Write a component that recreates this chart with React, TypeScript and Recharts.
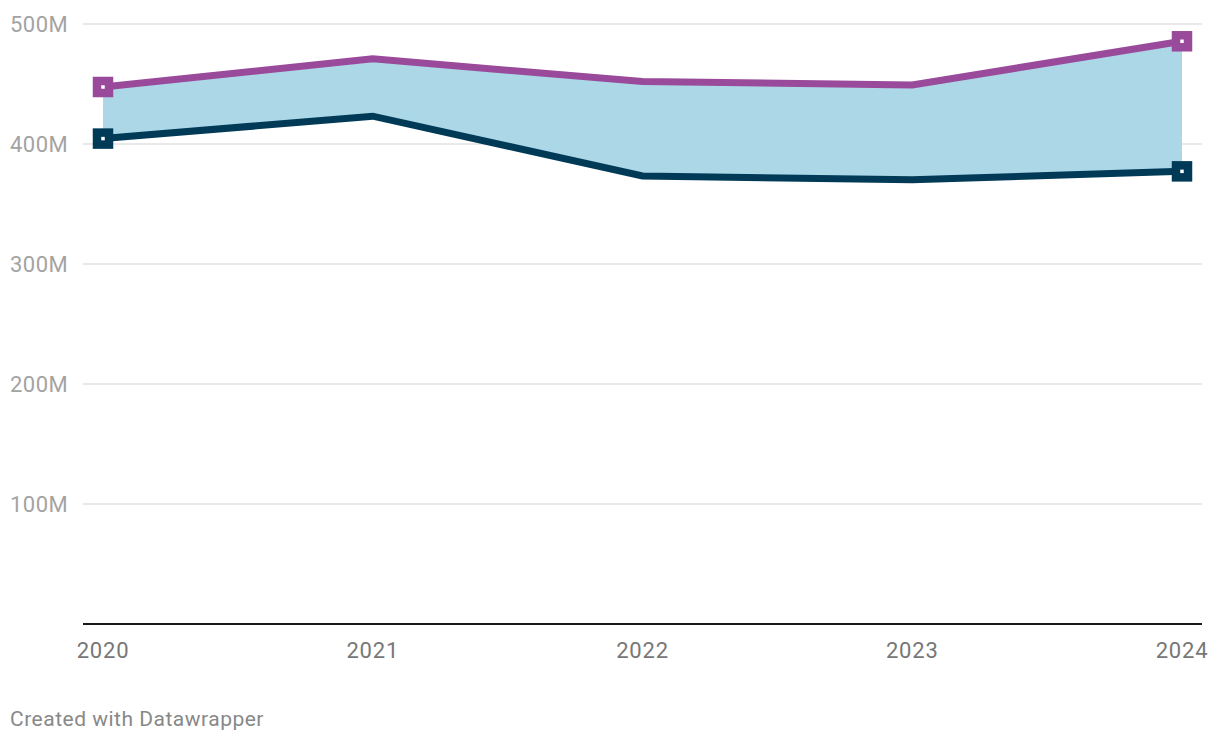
import React from "react";
import { ComposedChart, Area, Line, XAxis, YAxis, CartesianGrid, ReferenceLine } from "recharts";

const years = [2020, 2021, 2022, 2023, 2024];
const upperSeries = [447.5, 471, 452, 449.2, 485.6];
const lowerSeries = [404.5, 423.2, 373.3, 370.3, 377.2];
const yTicks = [100, 200, 300, 400, 500];

const PURPLE = "#9a4a9b";
const DARK = "#013a57";
const FILL = "#acd7e7";

const data = years.map((y, i) => ({
  year: y,
  upper: upperSeries[i],
  lower: lowerSeries[i],
  range: [lowerSeries[i], upperSeries[i]],
}));

const makeDot = (color: string) => (props: any) => {
  const { cx, cy, index } = props;
  if (index !== 0 && index !== data.length - 1) return <g key={`d${index}`} />;
  return (
    <rect
      key={`d${index}`}
      x={cx - 6}
      y={cy - 6}
      width={12}
      height={12}
      fill="#fff"
      stroke={color}
      strokeWidth={8.5}
    />
  );
};

const YTick = (props: any) => {
  const { y, payload } = props;
  return (
    <text x={10} y={y} dy="0.36em" textAnchor="start" fontSize={22} letterSpacing={0.5} fill="#a3a3a3" fontFamily="Roboto">
      {`${payload.value}M`}
    </text>
  );
};

const XTick = (props: any) => {
  const { x, payload } = props;
  return (
    <text x={x} y={658} textAnchor="middle" fontSize={22} letterSpacing={0.8} fill="#777" fontFamily="Roboto">
      {payload.value}
    </text>
  );
};

export default function App() {
  return (
    <div style={{ position: "absolute", left: 0, top: 0, width: 1220, height: 740, background: "#fff", fontFamily: "Roboto" }}>
      <ComposedChart width={1220} height={740} data={data} margin={{ top: 24, right: 18, bottom: 86, left: 0 }}>
        <CartesianGrid horizontal vertical={false} stroke="#e2e2e2" strokeWidth={1.5} />
        <XAxis
          dataKey="year"
          type="number"
          domain={[2020, 2024]}
          ticks={years}
          padding={{ left: 20, right: 20 }}
          axisLine={false}
          tickLine={false}
          height={30}
          tick={<XTick />}
        />
        <YAxis
          type="number"
          domain={[0, 500]}
          ticks={yTicks}
          width={83}
          axisLine={false}
          tickLine={false}
          tick={<YTick />}
        />
        <ReferenceLine y={0} stroke="#1a1a1a" strokeWidth={2} />
        <Area dataKey="range" stroke="none" fill={FILL} fillOpacity={1} isAnimationActive={false} />
        <Line dataKey="upper" stroke={PURPLE} strokeWidth={7} dot={makeDot(PURPLE)} activeDot={false} isAnimationActive={false} />
        <Line dataKey="lower" stroke={DARK} strokeWidth={7} dot={makeDot(DARK)} activeDot={false} isAnimationActive={false} />
      </ComposedChart>
      <div style={{ position: "absolute", left: 10, top: 707, fontSize: 21, letterSpacing: 0.5, color: "#888", fontFamily: "Roboto", whiteSpace: "nowrap" }}>
        Created with Datawrapper
      </div>
    </div>
  );
}
